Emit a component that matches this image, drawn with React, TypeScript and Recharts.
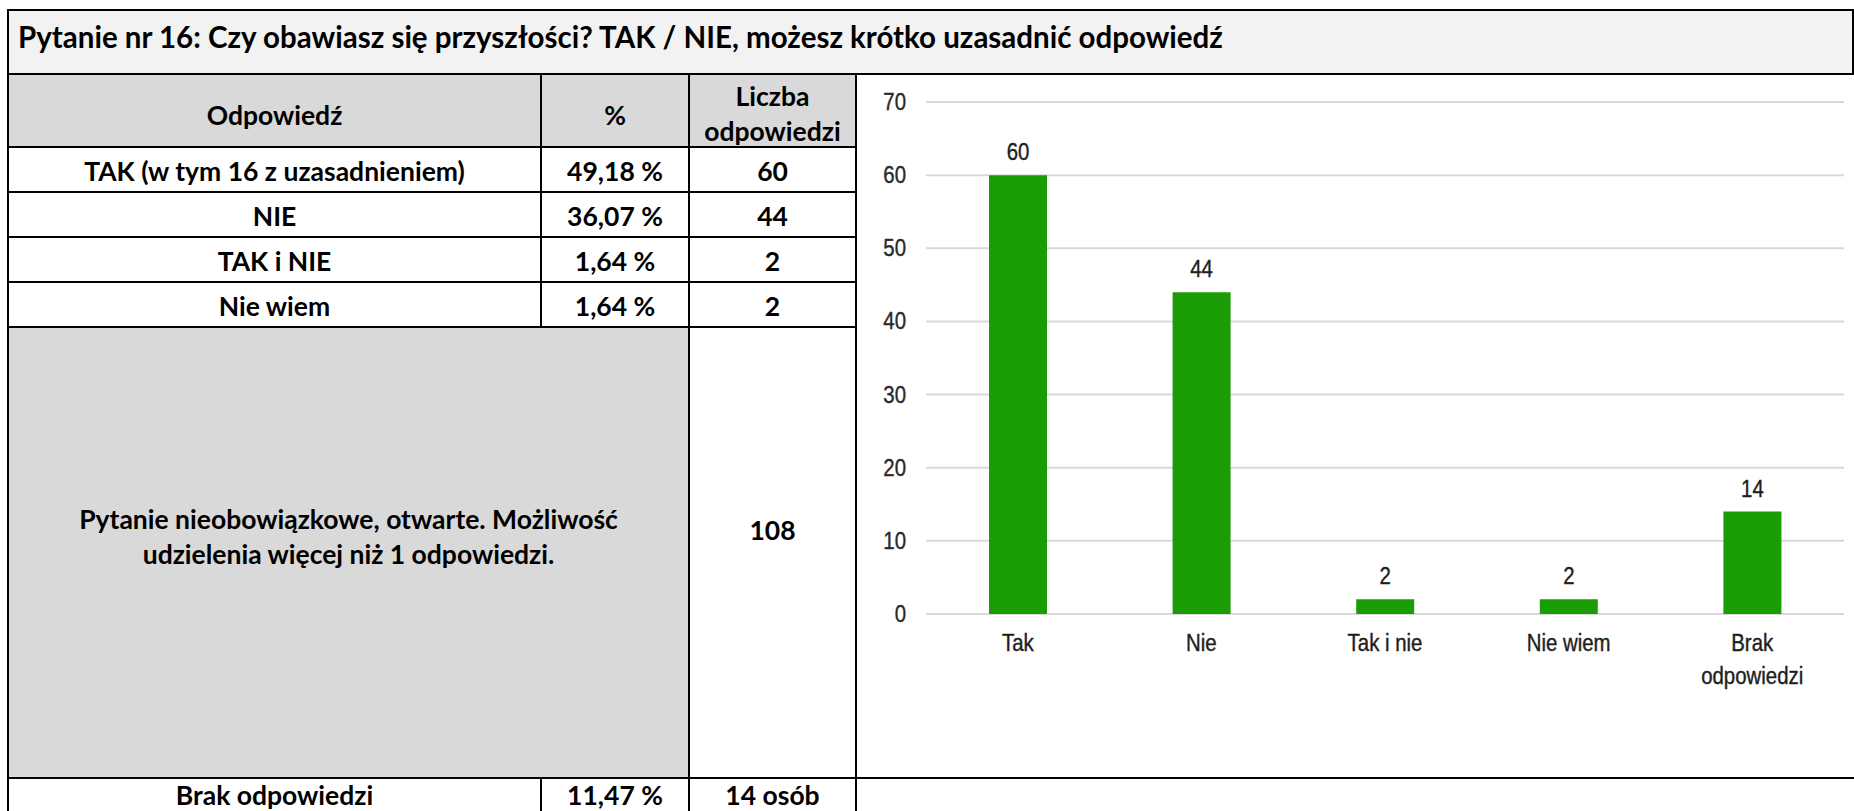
import { BarChart, Bar, XAxis, YAxis, CartesianGrid, LabelList } from 'recharts';

const title = 'Pytanie nr 16: Czy obawiasz się przyszłości? TAK / NIE, możesz krótko uzasadnić odpowiedź';

// table
const answers = ['TAK (w tym 16 z uzasadnieniem)', 'NIE', 'TAK i NIE', 'Nie wiem'];
const percents = ['49,18 %', '36,07 %', '1,64 %', '1,64 %'];
const answerCounts = ['60', '44', '2', '2'];
const noteLines = ['Pytanie nieobowiązkowe, otwarte. Możliwość', 'udzielenia więcej niż 1 odpowiedzi.'];
const totalCount = '108';
const missing = ['Brak odpowiedzi', '11,47 %', '14 osób'];

// chart
const categories = ['Tak', 'Nie', 'Tak i nie', 'Nie wiem', 'Brak odpowiedzi'];
const counts = [60, 44, 2, 2, 14];
const yTicks = [0, 10, 20, 30, 40, 50, 60, 70];

const chartData = categories.map((name, i) => ({ name, value: counts[i] }));

const tableFont = 'Lato, "Open Sans", sans-serif';
const chartFont = '"Liberation Sans", Arial, sans-serif';
const chartSize = 24;
const squeeze = 0.85; // the chart text in the picture is condensed

// column / row edges of the table
const colX = [8, 541, 689, 856, 1854];
const rowY = [10, 74, 147, 192, 237, 282, 327, 778, 811];

function HLine({ x1, x2, y }: { x1: number; x2: number; y: number }) {
  return <div style={{ position: 'absolute', left: x1 - 1, top: y - 1, width: x2 - x1 + 2, height: 2, background: '#000' }} />;
}

function VLine({ x, y1, y2 }: { x: number; y1: number; y2: number }) {
  return <div style={{ position: 'absolute', left: x - 1, top: y1 - 1, width: 2, height: y2 - y1 + 2, background: '#000' }} />;
}

function Cell({ x1, x2, y1, y2, bg, children, pt = 0, pb = 0, lh = 35 }: any) {
  return (
    <div
      style={{
        position: 'absolute',
        left: x1,
        top: y1,
        width: x2 - x1,
        height: y2 - y1,
        background: bg || '#fff',
        display: 'flex',
        flexDirection: 'column',
        alignItems: 'center',
        justifyContent: 'center',
        fontFamily: tableFont,
        fontWeight: 700,
        fontSize: 26.5,
        lineHeight: `${lh}px`,
        color: '#000',
        textAlign: 'center',
        whiteSpace: 'nowrap',
        overflow: 'hidden',
        paddingTop: pt,
        paddingBottom: pb,
        boxSizing: 'border-box',
      }}
    >
      {children}
    </div>
  );
}

function Squeezed({ x, y, anchor = 'middle', fill = '#1e1e1e', children }: any) {
  return (
    <text
      transform={`translate(${x},${y}) scale(${squeeze},1)`}
      textAnchor={anchor}
      fill={fill}
      stroke={fill}
      strokeWidth={0.4}
      fontSize={chartSize}
      fontFamily={chartFont}
    >
      {children}
    </text>
  );
}

function CategoryTick({ x, y, payload }: any) {
  const label = String(payload.value);
  const cut = label.indexOf(' ');
  const lines = label.length > 10 && cut > 0 ? [label.slice(0, cut), label.slice(cut + 1)] : [label];
  return (
    <g>
      {lines.map((l, i) => (
        <Squeezed key={i} x={x} y={y + 37 + i * 33}>
          {l}
        </Squeezed>
      ))}
    </g>
  );
}

function ValueTick({ x, y, payload }: any) {
  return (
    <Squeezed x={x} y={y + 8} anchor="end" fill="#2a2a2a">
      {payload.value}
    </Squeezed>
  );
}

function BarValue({ x, y, width, value }: any) {
  return (
    <Squeezed x={x + width / 2} y={y - 15}>
      {value}
    </Squeezed>
  );
}

export default function App() {
  return (
    <div style={{ position: 'absolute', left: 0, top: 0, width: 1854, height: 811, overflow: 'hidden', background: '#fff' }}>
      {/* title row */}
      <div
        style={{
          position: 'absolute',
          left: colX[0],
          top: rowY[0],
          width: colX[4] - colX[0],
          height: rowY[1] - rowY[0],
          background: '#f2f2f2',
          fontFamily: tableFont,
          fontWeight: 700,
          fontSize: 29.5,
          lineHeight: '36px',
          paddingLeft: 10,
          paddingTop: 9,
          boxSizing: 'border-box',
          whiteSpace: 'nowrap',
        }}
      >
        {title}
      </div>

      {/* header */}
      <Cell x1={colX[0]} x2={colX[1]} y1={rowY[1]} y2={rowY[2]} bg="#d9d9d9" pt={9}>Odpowiedź</Cell>
      <Cell x1={colX[1]} x2={colX[2]} y1={rowY[1]} y2={rowY[2]} bg="#d9d9d9" pt={9}>%</Cell>
      <Cell x1={colX[2]} x2={colX[3]} y1={rowY[1]} y2={rowY[2]} bg="#d9d9d9" pt={7}>
        <div>Liczba</div>
        <div>odpowiedzi</div>
      </Cell>

      {answers.map((a, i) => (
        <div key={a}>
          <Cell x1={colX[0]} x2={colX[1]} y1={rowY[2 + i]} y2={rowY[3 + i]} pt={4}>{a}</Cell>
          <Cell x1={colX[1]} x2={colX[2]} y1={rowY[2 + i]} y2={rowY[3 + i]} pt={4}>{percents[i]}</Cell>
          <Cell x1={colX[2]} x2={colX[3]} y1={rowY[2 + i]} y2={rowY[3 + i]} pt={4}>{answerCounts[i]}</Cell>
        </div>
      ))}

      <Cell x1={colX[0]} x2={colX[2]} y1={rowY[6]} y2={rowY[7]} bg="#d9d9d9" pb={32}>
        {noteLines.map((l) => (
          <div key={l}>{l}</div>
        ))}
      </Cell>
      <Cell x1={colX[2]} x2={colX[3]} y1={rowY[6]} y2={rowY[7]} pb={44}>{totalCount}</Cell>

      <Cell x1={colX[0]} x2={colX[1]} y1={rowY[7]} y2={rowY[8]} lh={30}>{missing[0]}</Cell>
      <Cell x1={colX[1]} x2={colX[2]} y1={rowY[7]} y2={rowY[8]} lh={30}>{missing[1]}</Cell>
      <Cell x1={colX[2]} x2={colX[3]} y1={rowY[7]} y2={rowY[8]} lh={30}>{missing[2]}</Cell>

      {/* chart panel */}
      <div style={{ position: 'absolute', left: colX[3], top: rowY[1] }}>
        <BarChart
          width={colX[4] - colX[3]}
          height={rowY[7] - rowY[1]}
          data={chartData}
          margin={{ top: 28, right: 10, bottom: 90, left: 0 }}
          barCategoryGap={0}
        >
          <CartesianGrid vertical={false} stroke="#d8d8d8" strokeWidth={2} />
          <XAxis
            dataKey="name"
            axisLine={false}
            tickLine={false}
            tickSize={0}
            tickMargin={0}
            interval={0}
            height={74}
            tick={<CategoryTick />}
          />
          <YAxis
            domain={[0, 70]}
            ticks={yTicks}
            width={70}
            axisLine={false}
            tickLine={false}
            tickSize={0}
            tickMargin={20}
            tick={<ValueTick />}
          />
          <Bar dataKey="value" fill="#1a9d04" barSize={58} isAnimationActive={false}>
            <LabelList dataKey="value" content={<BarValue />} />
          </Bar>
        </BarChart>
      </div>

      {/* grid lines of the table */}
      <HLine x1={colX[0]} x2={colX[4]} y={rowY[0]} />
      <HLine x1={colX[0]} x2={colX[4]} y={rowY[1]} />
      {rowY.slice(2, 7).map((y) => (
        <HLine key={y} x1={colX[0]} x2={colX[3]} y={y} />
      ))}
      <HLine x1={colX[0]} x2={colX[4]} y={rowY[7]} />
      <VLine x={colX[0]} y1={rowY[0]} y2={rowY[8]} />
      <VLine x={colX[1]} y1={rowY[1]} y2={rowY[6]} />
      <VLine x={colX[1]} y1={rowY[7]} y2={rowY[8]} />
      <VLine x={colX[2]} y1={rowY[1]} y2={rowY[8]} />
      <VLine x={colX[3]} y1={rowY[1]} y2={rowY[8]} />
      <VLine x={colX[4] - 1} y1={rowY[0]} y2={rowY[1]} />
    </div>
  );
}
